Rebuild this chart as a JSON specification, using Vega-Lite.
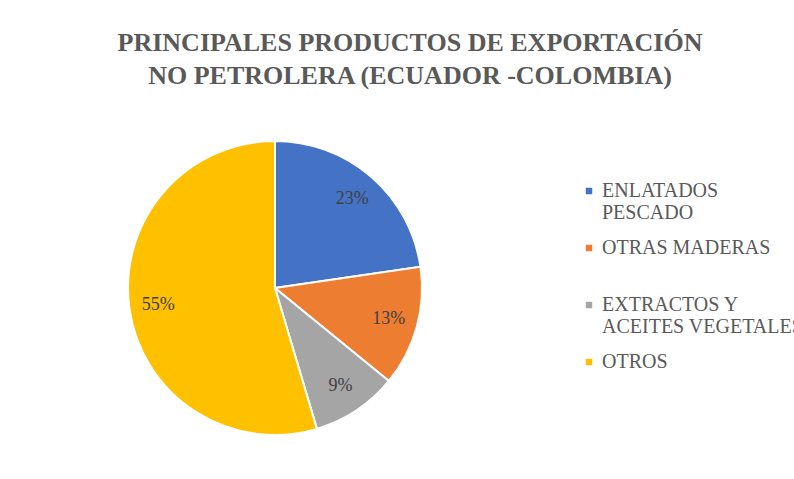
{
  "$schema": "https://vega.github.io/schema/vega-lite/v6.json",
  "autosize": {"type": "none"},
  "width": 294,
  "height": 294,
  "padding": {"left": 128, "top": 141, "right": 372, "bottom": 44},
  "background": "white",
  "title": {
    "text": ["PRINCIPALES PRODUCTOS DE EXPORTACIÓN", "NO PETROLERA (ECUADOR -COLOMBIA)"],
    "font": "'Liberation Serif', 'DejaVu Serif', serif",
    "fontSize": 26,
    "fontWeight": "bold",
    "color": "#595959",
    "anchor": "middle",
    "frame": "group",
    "dx": 135,
    "offset": 48,
    "lineHeight": 33
  },
  "data": {
    "values": [
      {"producto": "ENLATADOS PESCADO", "valor": 22.7, "etiqueta": "23%", "orden": 1},
      {"producto": "OTRAS MADERAS", "valor": 13.2, "etiqueta": "13%", "orden": 2},
      {"producto": "EXTRACTOS Y ACEITES VEGETALES", "valor": 9.5, "etiqueta": "9%", "orden": 3},
      {"producto": "OTROS", "valor": 54.6, "etiqueta": "55%", "orden": 4}
    ]
  },
  "encoding": {
    "theta": {"field": "valor", "type": "quantitative", "stack": true},
    "order": {"field": "orden", "type": "quantitative"}
  },
  "layer": [
    {
      "mark": {"type": "arc", "stroke": "white", "strokeWidth": 2},
      "encoding": {
        "color": {
          "field": "producto",
          "type": "nominal",
          "scale": {
            "domain": ["ENLATADOS PESCADO", "OTRAS MADERAS", "EXTRACTOS Y ACEITES VEGETALES", "OTROS"],
            "range": ["#4472C4", "#ED7D31", "#A5A5A5", "#FFC000"]
          },
          "legend": {
            "title": null,
            "orient": "none",
            "legendX": 451,
            "legendY": 40,
            "symbolType": "square",
            "symbolSize": 42,
            "symbolStrokeWidth": 0,
            "labelFont": "'Liberation Serif', 'DejaVu Serif', serif",
            "labelFontSize": 20,
            "labelColor": "#595959",
            "labelLimit": 400,
            "labelOffset": 3,
            "rowPadding": 15,
            "labelBaseline": "middle",
            "labelExpr": "datum.label == 'ENLATADOS PESCADO' ? ['ENLATADOS', 'PESCADO'] : datum.label == 'EXTRACTOS Y ACEITES VEGETALES' ? ['EXTRACTOS Y', 'ACEITES VEGETALES'] : [datum.label, '']",
            "encode": {"labels": {"update": {"lineHeight": {"value": 23}}}}
          }
        }
      }
    },
    {
      "mark": {"type": "text", "radius": 118, "font": "'Liberation Serif', 'DejaVu Serif', serif", "fontSize": 18, "color": "#404040"},
      "encoding": {"text": {"field": "etiqueta", "type": "nominal"}}
    }
  ]
}
